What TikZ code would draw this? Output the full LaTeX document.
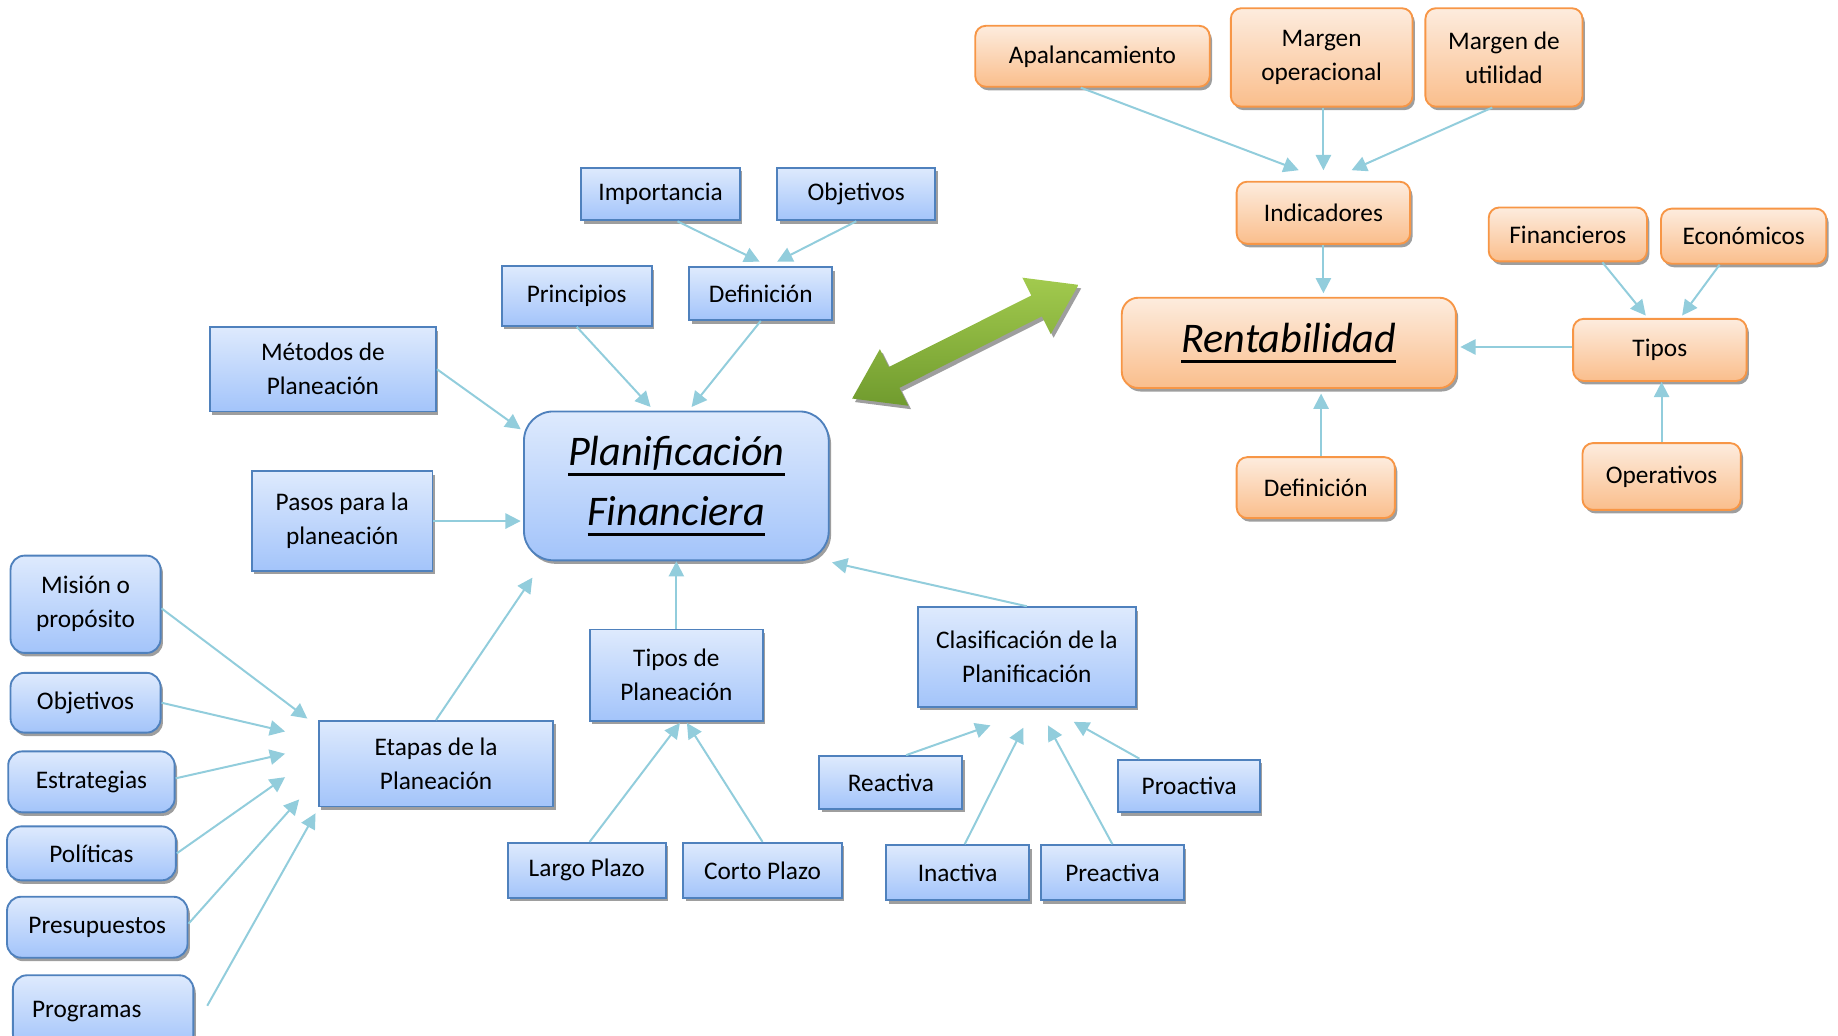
\documentclass[tikz,border=0pt]{standalone}
\usepackage{fontspec}
\setmainfont{Carlito}
\usepackage{tikz}
\usetikzlibrary{arrows.meta,shadows}
\definecolor{bline}{RGB}{79,129,189}
\definecolor{btop}{RGB}{222,234,253}
\definecolor{bbot}{RGB}{163,196,250}
\definecolor{oline}{RGB}{247,150,70}
\definecolor{otop}{RGB}{253,236,222}
\definecolor{obot}{RGB}{250,190,140}
\definecolor{cnc}{RGB}{146,205,220}
\definecolor{gtop}{RGB}{162,202,78}
\definecolor{gbot}{RGB}{112,155,46}
\definecolor{shd}{RGB}{158,158,158}
\newcommand{\ulx}[1]{\leavevmode\setbox0\hbox{#1}\rlap{\raisebox{-4.6pt}{\rule{\wd0}{1.4pt}}}\box0}
\tikzset{
  sz/.style 2 args={minimum width=#1*0.5pt, minimum height=#2*0.5pt},
  bx/.style={draw=bline, line width=0.8pt, top color=btop, bottom color=bbot, align=center, inner sep=1pt,
    font=\fontsize{10.8}{14.5}\selectfont, drop shadow={shadow xshift=1pt, shadow yshift=-1.5pt, fill=shd, opacity=1}},
  bxr/.style={bx, rounded corners=6pt},
  ob/.style={bx, draw=oline, top color=otop, bottom color=obot, rounded corners=4.5pt},
  ttl/.style={font=\fontsize{18}{25.5}\selectfont\itshape},
  cn/.style={-{Triangle[length=6.5pt,width=6.5pt]}, cnc, line width=0.85pt}
}

\begin{document}
\begin{tikzpicture}[x=0.5pt, y=-0.5pt]
  \useasboundingbox (0,0) rectangle (1568,883);
  % planificacion
  \node[bxr, ttl, sz={260}{127}, rounded corners=12.5pt] (plan) at (577,414.5) {\ulx{Planificación}\\\ulx{Financiera}};
  \node[bx, sz={135}{45}] (imp) at (563.5,165.5) {Importancia};
  \node[bx, sz={135}{45}] (objT) at (730.5,165.5) {Objetivos};
  \node[bx, sz={128}{51}] (prin) at (492,252.5) {Principios};
  \node[bx, sz={122}{45}] (defB) at (649,250.5) {Definición};
  \node[bx, sz={193}{72}] (met) at (275.5,315) {Métodos de\\Planeación};
  \node[bx, sz={154}{85}] (pasos) at (292,444.5) {Pasos para la\\planeación};
  \node[bx, sz={200}{73}] (etapas) at (372,651.5) {Etapas de la\\Planeación};
  \node[bx, sz={148}{78}] (tipos) at (577,576) {Tipos de\\Planeación};
  \node[bx, sz={186}{85}] (clas) at (876,560.5) {Clasificación de la\\Planificación};
  % etapas
  \node[bxr, sz={128}{83}] (mis) at (73,515.5) {Misión o\\propósito};
  \node[bxr, sz={128}{51}] (objL) at (73,599.5) {Objetivos};
  \node[bxr, sz={142}{52}] (est) at (78,667) {Estrategias};
  \node[bxr, sz={144}{46}] (pol) at (78,728) {Políticas};
  \node[bxr, sz={154}{52}] (pres) at (83,791) {Presupuestos};
  \node[bxr, sz={154}{62}] (prog) at (88,863) {Programas\hspace{14pt}};
  % tipos y clasificacion
  \node[bx, sz={135}{47}] (largo) at (500.5,742.5) {Largo Plazo};
  \node[bx, sz={135}{47}] (corto) at (650.5,742.5) {Corto Plazo};
  \node[bx, sz={122}{45}] (react) at (760,667.5) {Reactiva};
  \node[bx, sz={122}{47}] (inact) at (817,744.5) {Inactiva};
  \node[bx, sz={122}{47}] (preact) at (949,744.5) {Preactiva};
  \node[bx, sz={121}{45}] (proact) at (1014.5,670.5) {Proactiva};
  % rentabilidad
  \node[ob, ttl, sz={285}{77}, rounded corners=7pt] (rent) at (1099.5,292.5) {\ulx{Rentabilidad}};
  \node[ob, sz={200}{52}] (apal) at (932,48) {Apalancamiento};
  \node[ob, sz={155}{84}] (mop) at (1127.5,49) {Margen\\operacional};
  \node[ob, sz={134}{84}] (mut) at (1283,49) {Margen de\\utilidad};
  \node[ob, sz={148}{53}] (ind) at (1129,181.5) {Indicadores};
  \node[ob, sz={135}{46}] (fin) at (1337.5,200) {Financieros};
  \node[ob, sz={141}{47}] (eco) at (1487.5,201.5) {Económicos};
  \node[ob, sz={148}{53}] (tiposO) at (1416,298.5) {Tipos};
  \node[ob, sz={135}{57}] (oper) at (1417.5,406.5) {Operativos};
  \node[ob, sz={135}{52}] (defO) at (1122.5,416) {Definición};

  \draw[cn] ([shift={(14.5,0)}]imp.south) -- ([shift={(-1,-4)}]defB.north);
  \draw[cn] (objT.south) -- ([shift={(14,-4)}]defB.north);
  \draw[cn] (prin.south) -- ([shift={(-22,-3)}]plan.north);
  \draw[cn] (defB.south) -- ([shift={(13,-3)}]plan.north);
  \draw[cn] (met.east) -- ([shift={(-2,16)}]plan.north west);
  \draw[cn] (pasos.east) -- ([shift={(-2,30)}]plan.west);
  \draw[cn] (etapas.north) -- ([shift={(8,14)}]plan.south west);
  \draw[cn] (tipos.north) -- (plan.south);
  \draw[cn] (clas.north) -- ([shift={(2,1)}]plan.south east);
  \draw[cn] ([shift={(0,3.5)}]mis.east) -- ([shift={(-9,-38.5)}]etapas.west);
  \draw[cn] (objL.east) -- ([shift={(-28,-27.5)}]etapas.west);
  \draw[cn] ([shift={(0,-3)}]est.east) -- ([shift={(-28,-8.5)}]etapas.west);
  \draw[cn] (pol.east) -- ([shift={(-28,11.5)}]etapas.west);
  \draw[cn] ([shift={(0,-3)}]pres.east) -- ([shift={(-16,30.5)}]etapas.west);
  \draw[cn] ([shift={(11,-5)}]prog.east) -- ([shift={(-2,5)}]etapas.south west);
  \draw[cn] ([shift={(2.5,0)}]largo.north) -- ([shift={(3,1)}]tipos.south);
  \draw[cn] (corto.north) -- ([shift={(9,1)}]tipos.south);
  \draw[cn] ([shift={(13,0)}]react.north) -- ([shift={(-31,15)}]clas.south);
  \draw[cn] ([shift={(6,0)}]inact.north) -- ([shift={(-3,17)}]clas.south);
  \draw[cn] (preact.north) -- ([shift={(18,15)}]clas.south);
  \draw[cn] ([shift={(-42.5,0)}]proact.north) -- ([shift={(40,12)}]clas.south);

  \draw[cn] ([shift={(-10,0)}]apal.south) -- ([shift={(-21,-9)}]ind.north);
  \draw[cn] ([shift={(1.5,0)}]mop.south) -- ([shift={(0,-9)}]ind.north);
  \draw[cn] ([shift={(-10,0)}]mut.south) -- ([shift={(24,-9)}]ind.north);
  \draw[cn] (ind.south) -- ([shift={(29.5,-3)}]rent.north);
  \draw[cn] ([shift={(29.5,0)}]fin.south) -- ([shift={(-12,-2)}]tiposO.north);
  \draw[cn] ([shift={(-20.5,0)}]eco.south) -- ([shift={(19,-2)}]tiposO.north);
  \draw[cn] ([shift={(0,-2.5)}]tiposO.west) -- ([shift={(3,3.5)}]rent.east);
  \draw[cn] ([shift={(0,0)}]oper.north) -- ([shift={(1.5,0)}]tiposO.south);
  \draw[cn] ([shift={(4.5,0)}]defO.north) -- ([shift={(27.5,4)}]rent.south);

  % flecha doble
  \shade[top color=gtop, bottom color=gbot, drop shadow={shadow xshift=1.2pt, shadow yshift=-1.5pt, fill=shd, opacity=1}]
    (727,340) -- (774.8,346.1) -- (767.2,330.9) -- (888.8,269.9) -- (896.4,285.1) -- (920,243)
    -- (872.2,236.9) -- (879.8,252.1) -- (758.2,313.1) -- (750.6,297.9) -- cycle;
\end{tikzpicture}
\end{document}
